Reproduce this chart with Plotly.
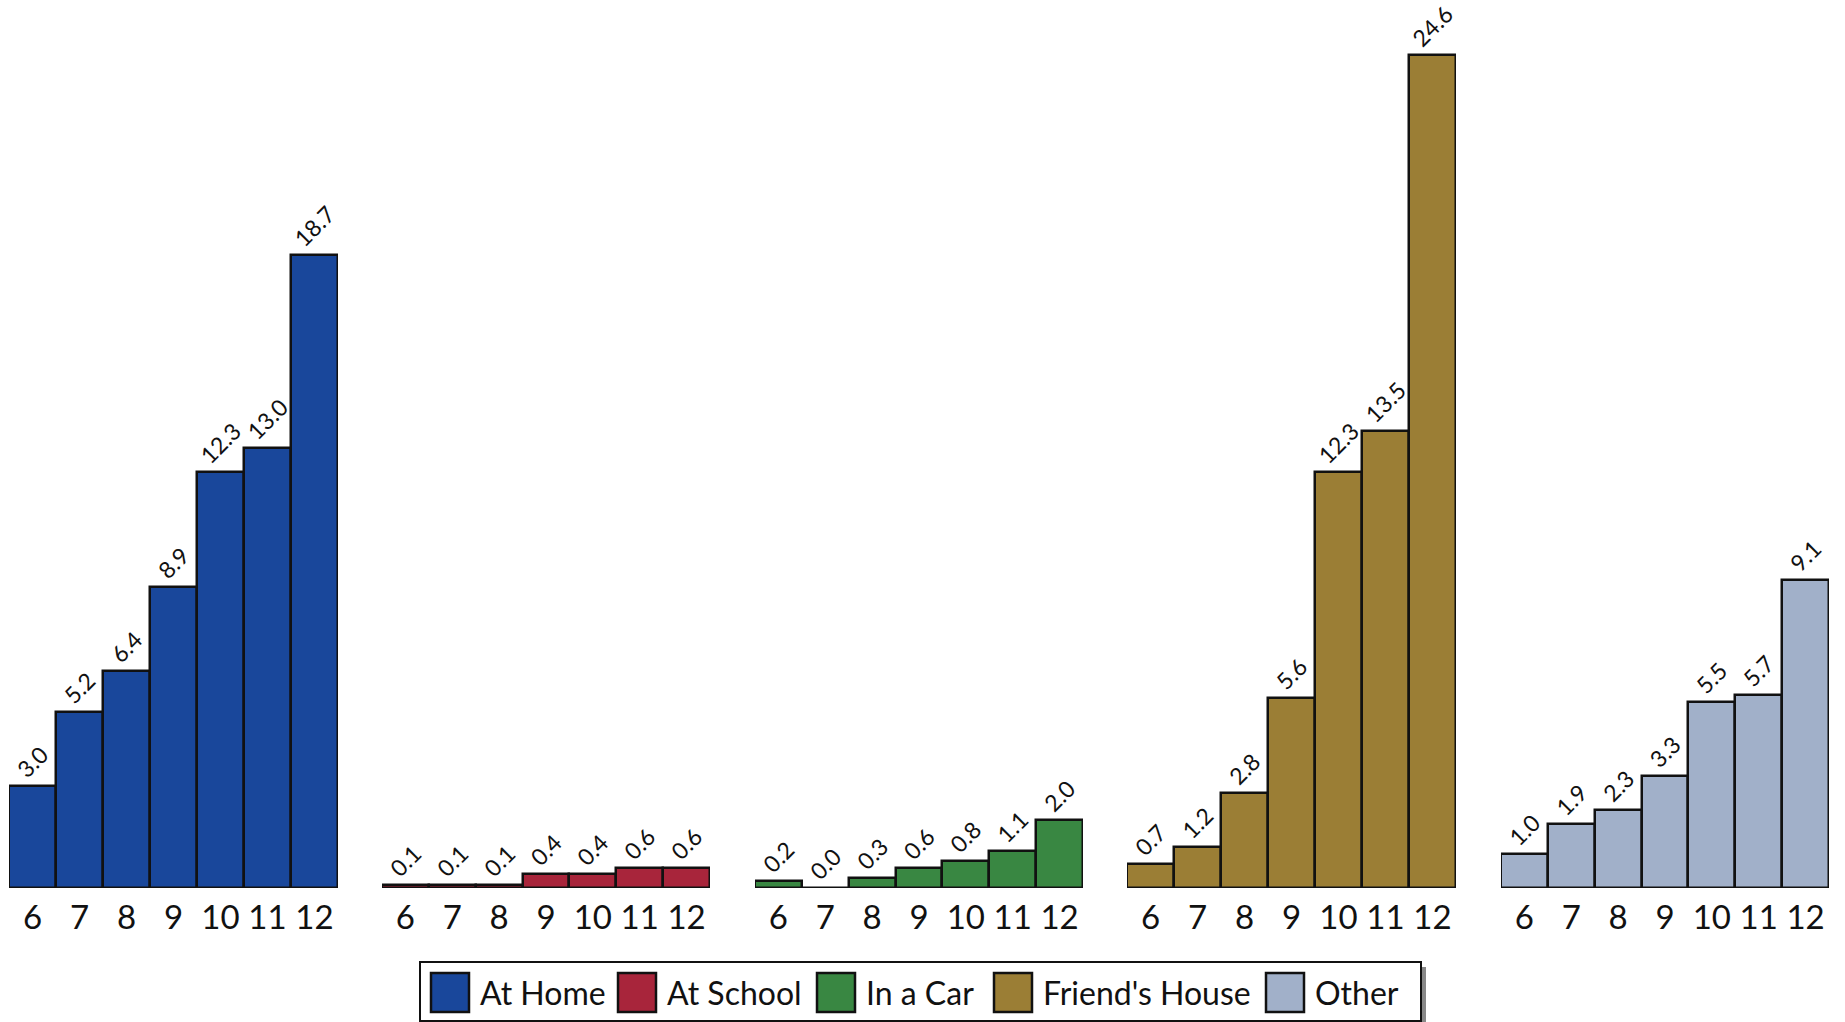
import plotly.graph_objects as go

grades = ["6", "7", "8", "9", "10", "11", "12"]
series_names = ["At Home", "At School", "In a Car", "Friend's House", "Other"]
at_home = [3.0, 5.2, 6.4, 8.9, 12.3, 13.0, 18.7]
at_school = [0.1, 0.1, 0.1, 0.4, 0.4, 0.6, 0.6]
in_a_car = [0.2, 0.0, 0.3, 0.6, 0.8, 1.1, 2.0]
friends_house = [0.7, 1.2, 2.8, 5.6, 12.3, 13.5, 24.6]
other = [1.0, 1.9, 2.3, 3.3, 5.5, 5.7, 9.1]
series_values = [at_home, at_school, in_a_car, friends_house, other]
colors = ["#19479b", "#a8253b", "#398742", "#9b7e35", "#a1b0c9"]

W, H = 1845, 1022
FONT = "Lato"
panel_x = [(9, 338), (382, 710), (755, 1083), (1127, 1456), (1501, 1829)]
base_px = 888
y_top = base_px / 33.86

fig = go.Figure()
for i, (name, vals, col) in enumerate(zip(series_names, series_values, colors)):
    ax = "" if i == 0 else str(i + 1)
    fig.add_trace(go.Bar(
        x=grades, y=vals, name=name,
        marker=dict(color=col, line=dict(color="#111111", width=2.5)),
        text=[f"{v:.1f}" for v in vals], textposition="outside",
        textangle=-45, constraintext="none", cliponaxis=False,
        textfont=dict(family=FONT, size=23, color="#111111"),
        xaxis="x" + ax, yaxis="y" + ax, showlegend=False,
    ))
    x0, x1 = panel_x[i]
    fig.layout["xaxis" + ax] = dict(
        domain=[x0 / W, x1 / W], type="category", anchor="y" + ax,
        showgrid=False, zeroline=False, showline=False, ticks="",
        tickfont=dict(family=FONT, size=33, color="#111111"),
        ticklabelstandoff=7, automargin=False, fixedrange=True,
    )
    fig.layout["yaxis" + ax] = dict(
        domain=[(H - base_px) / H, 1], range=[0, y_top], anchor="x" + ax,
        visible=False, automargin=False, fixedrange=True,
    )

# manual legend
box = (420, 962, 1421, 1021)
swatches = [431, 618, 817, 994, 1266]
sw = 38
shapes = [
    dict(type="rect", xref="paper", yref="paper",
         x0=(box[0] + 5) / W, x1=(box[2] + 5) / W, y0=1 - (box[3] + 5) / H, y1=1 - (box[1] + 5) / H,
         fillcolor="#888888", line=dict(width=0), layer="below"),
    dict(type="rect", xref="paper", yref="paper",
         x0=box[0] / W, x1=box[2] / W, y0=1 - box[3] / H, y1=1 - box[1] / H,
         fillcolor="white", line=dict(color="#111111", width=2)),
]
annotations = []
for sx, name, col in zip(swatches, series_names, colors):
    shapes.append(dict(type="rect", xref="paper", yref="paper",
                       x0=sx / W, x1=(sx + sw) / W, y0=1 - 1012 / H, y1=1 - 973 / H,
                       fillcolor=col, line=dict(color="#111111", width=2.5)))
    annotations.append(dict(xref="paper", yref="paper", x=(sx + sw + 9) / W, y=1 - 992 / H,
                            text=name, showarrow=False, xanchor="left", yanchor="middle",
                            font=dict(family="Liberation Sans Narrow, " + FONT, size=32, color="#111111")))

fig.update_layout(
    width=W, height=H, margin=dict(l=0, r=0, t=0, b=0),
    paper_bgcolor="white", plot_bgcolor="white",
    bargap=0, showlegend=False, shapes=shapes, annotations=annotations,
)
fig.write_html("out.html", config={"displayModeBar": False})

with open("out.html", "r", encoding="utf-8") as f:
    html = f.read()
html = html.replace("<body>", '<body style="margin:0;padding:0;overflow:hidden">', 1)
with open("out.html", "w", encoding="utf-8") as f:
    f.write(html)
